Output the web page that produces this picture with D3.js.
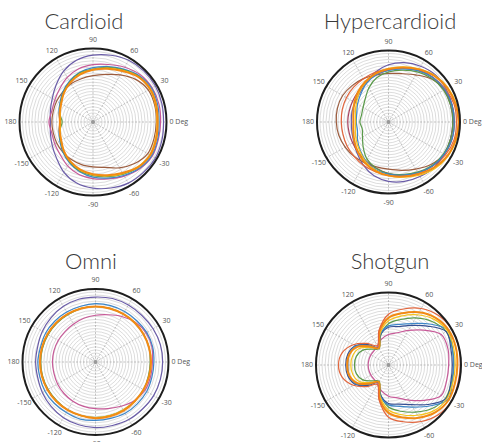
<!DOCTYPE html>
<html>
<head>
<meta charset="utf-8">
<script src="https://cdn.jsdelivr.net/npm/d3@7"></script>
<style>
  body { margin: 0; background: #fff; }
  .title { font-family: Lato, "Open Sans", sans-serif; font-weight: 300; font-size: 22px; fill: #3a3a3a; }
  .lbl { font-family: "Open Sans", "DejaVu Sans", sans-serif; font-size: 7px; fill: #555; }
</style>
</head>
<body>
<div id="chart-area"></div>
<script>
var width = 482, height = 442;

// measurement angles (deg, 0 = front, counter clockwise)
var angles = [0,15,30,45,60,75,90,105,120,135,150,165,180,195,210,225,240,255,270,285,300,315,330,345];
var spokeAngles = [0,30,60,90,120,150,180,210,240,270,300,330];
var spokeLabels = ["0 Deg","30","60","90","120","150","180","-150","-120","-90","-60","-30"];
var ringCount = 24;

var titles = ["Cardioid","Hypercardioid","Omni","Shotgun"];

var palette = {
  purple: "#6a5ca8", pink: "#c75a98", blue: "#3d86c8", orange: "#f28a14",
  yellow: "#f6c31a", green: "#5a9a4a", brown: "#9c5c3e", red: "#e2653c",
  navy: "#364f92", maroon: "#a8425e"
};

// relative radius (0..1 of outer ring) per series
var cardioidNames = ["purple","pink","brown","blue","green","yellow","orange"];
var cardioidValues = [
  [0.96,0.97,0.98,0.98,0.97,0.94,0.91,0.87,0.8,0.71,0.64,0.6,0.58,0.6,0.64,0.7,0.79,0.86,0.9,0.93,0.96,0.97,0.98,0.97],
  [0.92,0.93,0.93,0.91,0.86,0.81,0.78,0.75,0.7,0.64,0.6,0.58,0.6,0.58,0.6,0.63,0.69,0.74,0.77,0.8,0.85,0.9,0.93,0.92],
  [0.86,0.87,0.87,0.82,0.74,0.67,0.63,0.61,0.6,0.58,0.57,0.56,0.56,0.56,0.57,0.58,0.59,0.6,0.61,0.64,0.72,0.8,0.86,0.86],
  [0.9,0.91,0.92,0.89,0.83,0.78,0.74,0.7,0.64,0.58,0.52,0.48,0.45,0.48,0.52,0.58,0.64,0.7,0.75,0.79,0.84,0.89,0.92,0.91],
  [0.88,0.89,0.9,0.88,0.82,0.77,0.72,0.69,0.63,0.57,0.51,0.47,0.42,0.47,0.51,0.57,0.63,0.69,0.73,0.77,0.82,0.87,0.9,0.89],
  [0.87,0.88,0.89,0.87,0.81,0.76,0.71,0.68,0.62,0.56,0.5,0.46,0.44,0.46,0.5,0.56,0.62,0.68,0.72,0.76,0.81,0.86,0.89,0.88],
  [0.88,0.89,0.9,0.87,0.8,0.75,0.71,0.67,0.62,0.56,0.5,0.47,0.45,0.47,0.5,0.56,0.62,0.67,0.71,0.75,0.8,0.87,0.9,0.89]
];

var hyperNames = ["purple","brown","red","maroon","green","blue","yellow","orange"];
var hyperValues = [
  [0.9,0.92,0.93,0.93,0.9,0.86,0.8,0.72,0.63,0.57,0.54,0.53,0.52,0.53,0.56,0.62,0.7,0.78,0.83,0.86,0.88,0.9,0.9,0.9],
  [0.92,0.92,0.9,0.85,0.76,0.7,0.68,0.68,0.7,0.72,0.74,0.74,0.73,0.72,0.7,0.68,0.66,0.65,0.66,0.7,0.76,0.84,0.9,0.92],
  [0.95,0.95,0.92,0.88,0.83,0.78,0.74,0.72,0.7,0.69,0.68,0.67,0.66,0.66,0.67,0.68,0.7,0.72,0.74,0.77,0.82,0.87,0.92,0.95],
  [0.9,0.9,0.9,0.88,0.84,0.78,0.73,0.68,0.64,0.6,0.58,0.57,0.57,0.57,0.58,0.6,0.63,0.67,0.72,0.77,0.83,0.87,0.9,0.9],
  [0.9,0.9,0.89,0.86,0.81,0.75,0.7,0.64,0.55,0.46,0.41,0.39,0.4,0.38,0.42,0.5,0.6,0.67,0.72,0.76,0.81,0.86,0.89,0.9],
  [0.92,0.92,0.91,0.88,0.83,0.77,0.72,0.68,0.62,0.55,0.5,0.46,0.45,0.45,0.5,0.56,0.63,0.69,0.73,0.77,0.82,0.87,0.9,0.92],
  [0.99,0.98,0.96,0.92,0.86,0.8,0.75,0.7,0.64,0.58,0.52,0.48,0.46,0.48,0.52,0.57,0.64,0.7,0.75,0.8,0.86,0.92,0.96,0.98],
  [0.98,0.97,0.95,0.91,0.85,0.79,0.74,0.7,0.65,0.6,0.55,0.51,0.49,0.51,0.55,0.6,0.66,0.71,0.75,0.79,0.84,0.9,0.95,0.97]
];

var omniNames = ["purple","pink","blue","green","yellow","orange"];
var omniValues = [
  [0.92,0.92,0.91,0.9,0.9,0.9,0.89,0.89,0.88,0.86,0.84,0.82,0.82,0.82,0.84,0.86,0.88,0.89,0.9,0.9,0.91,0.91,0.92,0.92],
  [0.78,0.8,0.8,0.77,0.72,0.67,0.64,0.62,0.6,0.59,0.59,0.59,0.59,0.59,0.6,0.61,0.62,0.63,0.64,0.66,0.7,0.75,0.78,0.78],
  [0.8,0.81,0.81,0.8,0.8,0.8,0.8,0.79,0.79,0.79,0.79,0.78,0.79,0.79,0.8,0.8,0.8,0.81,0.8,0.8,0.81,0.81,0.81,0.8],
  [0.75,0.76,0.76,0.76,0.76,0.76,0.76,0.76,0.75,0.75,0.75,0.75,0.75,0.75,0.75,0.75,0.76,0.76,0.76,0.76,0.76,0.76,0.76,0.75],
  [0.76,0.76,0.76,0.76,0.76,0.76,0.76,0.76,0.76,0.76,0.76,0.76,0.76,0.76,0.76,0.76,0.76,0.76,0.76,0.76,0.76,0.76,0.76,0.76],
  [0.76,0.76,0.76,0.76,0.76,0.76,0.76,0.76,0.76,0.76,0.76,0.76,0.76,0.76,0.76,0.76,0.76,0.76,0.77,0.77,0.77,0.76,0.76,0.76]
];

var shotgunNames = ["pink","green","navy","blue","yellow","orange","red"];
var shotgunValues = [
  [0.83,0.85,0.84,0.68,0.55,0.46,0.42,0.37,0.3,0.28,0.28,0.28,0.28,0.28,0.28,0.28,0.3,0.37,0.43,0.47,0.56,0.69,0.84,0.83],
  [0.9,0.91,0.92,0.85,0.75,0.65,0.57,0.42,0.26,0.31,0.41,0.46,0.47,0.46,0.41,0.31,0.26,0.42,0.58,0.66,0.75,0.85,0.91,0.9],
  [0.88,0.89,0.92,0.76,0.63,0.55,0.52,0.43,0.28,0.4,0.53,0.58,0.59,0.58,0.53,0.4,0.28,0.43,0.53,0.56,0.63,0.77,0.92,0.89],
  [0.9,0.91,0.95,0.8,0.66,0.58,0.54,0.44,0.27,0.38,0.52,0.56,0.56,0.56,0.52,0.38,0.27,0.44,0.55,0.59,0.67,0.8,0.95,0.91],
  [0.92,0.93,0.94,0.89,0.8,0.7,0.61,0.45,0.27,0.34,0.46,0.51,0.52,0.51,0.46,0.34,0.27,0.45,0.62,0.71,0.8,0.89,0.93,0.92],
  [0.95,0.96,0.96,0.92,0.84,0.74,0.65,0.48,0.27,0.36,0.5,0.56,0.57,0.56,0.5,0.36,0.27,0.48,0.66,0.75,0.84,0.92,0.96,0.95],
  [0.99,1.0,1.0,0.97,0.9,0.8,0.7,0.5,0.31,0.42,0.56,0.66,0.69,0.66,0.56,0.42,0.31,0.5,0.72,0.81,0.9,0.97,1.0,0.99]
];

var charts = [
  { names: cardioidNames, values: cardioidValues, cx: 93, cy: 122, r: 73.5, tx: 84, ty: 29 },
  { names: hyperNames, values: hyperValues, cx: 388.5, cy: 122, r: 71.5, tx: 390, ty: 29 },
  { names: omniNames, values: omniValues, cx: 95.5, cy: 362, r: 73, tx: 91, ty: 269 },
  { names: shotgunNames, values: shotgunValues, cx: 388.5, cy: 365, r: 72.5, tx: 390, ty: 269 }
];

var svg = d3.select("#chart-area")
  .append("svg")
  .attr("width", width)
  .attr("height", height);

charts.forEach(function(c, i) {
  var rScale = d3.scaleLinear().domain([0, 1]).range([0, c.r]);
  var rad = function(a) { return a * Math.PI / 180; };

  svg.append("text")
    .attr("class", "title")
    .attr("x", c.tx)
    .attr("y", c.ty)
    .attr("text-anchor", "middle")
    .text(titles[i]);

  var g = svg.append("g")
    .attr("transform", "translate(" + c.cx + "," + c.cy + ")");

  // rings
  g.selectAll(".ring")
    .data(d3.range(1, ringCount + 1))
    .enter().append("circle")
    .attr("class", "ring")
    .attr("r", function(d) { return rScale(d / ringCount); })
    .attr("fill", "none")
    .attr("stroke", "#c4c4c4")
    .attr("stroke-width", 0.6);

  // spokes
  g.selectAll(".spoke")
    .data(spokeAngles)
    .enter().append("line")
    .attr("x1", 0).attr("y1", 0)
    .attr("x2", function(a) { return rScale(1) * Math.cos(rad(a)); })
    .attr("y2", function(a) { return -rScale(1) * Math.sin(rad(a)); })
    .attr("stroke", "#9a9a9a")
    .attr("stroke-width", 0.6)
    .attr("stroke-dasharray", "2,1.5");

  g.append("circle")
    .attr("r", 2)
    .attr("fill", "#999");

  // data lines
  var line = d3.line()
    .x(function(d, k) { return rScale(d) * Math.cos(rad(angles[k])); })
    .y(function(d, k) { return -rScale(d) * Math.sin(rad(angles[k])); })
    .curve(d3.curveCatmullRomClosed.alpha(0.5));

  g.selectAll(".series")
    .data(c.values)
    .enter().append("path")
    .attr("d", line)
    .attr("fill", "none")
    .attr("stroke", function(d, k) { return palette[c.names[k]]; })
    .attr("stroke-width", function(d, k) { return c.names[k] == "orange" ? 2 : 1.2; });

  // outer ring
  g.append("circle")
    .attr("r", rScale(1))
    .attr("fill", "none")
    .attr("stroke", "#1e1e1e")
    .attr("stroke-width", 2);

  // angle labels
  g.selectAll(".lbl")
    .data(spokeAngles)
    .enter().append("text")
    .attr("class", "lbl")
    .attr("x", function(a) {
      if (a == 0) return rScale(1) + 3;
      if (a == 180) return -rScale(1) - 3;
      return (rScale(1) + 9) * Math.cos(rad(a));
    })
    .attr("y", function(a) { return -(rScale(1) + 9) * Math.sin(rad(a)); })
    .attr("dy", "0.35em")
    .attr("text-anchor", function(a) { return a == 0 ? "start" : (a == 180 ? "end" : "middle"); })
    .text(function(a, k) { return spokeLabels[k]; });
});
</script>
</body>
</html>
